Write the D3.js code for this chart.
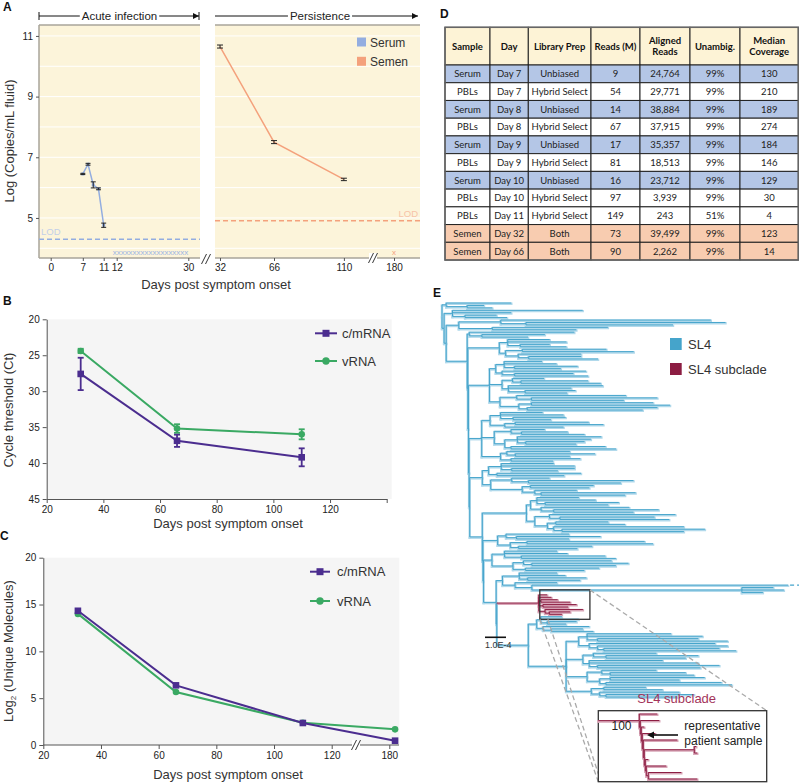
<!DOCTYPE html>
<html><head><meta charset="utf-8">
<script src="https://cdn.jsdelivr.net/npm/d3@7"></script>
<style>
body{margin:0;background:#fff}
svg{display:block}
text{font-family:"Liberation Sans",Arial,Helvetica,sans-serif}
</style></head>
<body><svg id="fig" width="799" height="783"></svg>
<script>
// ---------------- DATA ----------------
// Panel A
const serumDays = [7, 8, 9, 10, 11];
const serumLog = [6.45, 6.77, 6.09, 5.96, 4.76];
const serumErr = [0.02, 0.03, 0.10, 0.03, 0.07];
const serumUndetectedDays = [12,13,14,15,16,17,18,19,20,21,22,23,24,25,26,27,28,29,30];
const semenDays = [32, 66, 110];
const semenLog = [10.65, 7.50, 6.27];
const semenErr = [0.05, 0.05, 0.04];
const semenUndetectedDays = [180];
const serumLOD = 4.3;
const semenLOD = 4.91;
const undetectedLevel = 3.87;
const aTicksLeft = [0, 7, 11, 12, 30];
const aTicksRight = [32, 66, 110, 180];
const aYTicks = [5, 7, 9, 11];
const aGrid = [4, 5, 6, 7, 8, 9, 10, 11];
const aLegend = ["Serum", "Semen"];

// Panel B
const bDays = [32, 66, 110];
const ctCmRNA = [27.6, 36.9, 39.2];
const ctCmRNAErr = [2.25, 0.85, 1.25];
const ctVRNA = [24.4, 35.2, 36.0];
const ctVRNAErr = [0.3, 0.6, 0.7];
const bXTicks = [20, 40, 60, 80, 100, 120, 140];
const bYTicks = [20, 25, 30, 35, 40, 45];

// Panel C
const cDays = [32, 66, 110, 182];
const umCmRNA = [14.33, 6.37, 2.35, 0.46];
const umVRNA = [14.0, 5.66, 2.38, 1.67];
const cXTicks = [20, 40, 60, 80, 100, 120, 180];
const cYTicks = [0, 5, 10, 15, 20];
const seriesNames = ["c/mRNA", "vRNA"];

// Panel D table
const tableHeader = [["Sample"], ["Day"], ["Library Prep"], ["Reads (M)"], ["Aligned", "Reads"], ["Unambig."], ["Median", "Coverage"]];
const tableSample = ["Serum","PBLs","Serum","PBLs","Serum","PBLs","Serum","PBLs","PBLs","Semen","Semen"];
const tableDay = ["Day 7","Day 7","Day 8","Day 8","Day 9","Day 9","Day 10","Day 10","Day 11","Day 32","Day 66"];
const tablePrep = ["Unbiased","Hybrid Select","Unbiased","Hybrid Select","Unbiased","Hybrid Select","Unbiased","Hybrid Select","Hybrid Select","Both","Both"];
const tableReads = ["9","54","14","67","17","81","16","97","149","73","90"];
const tableAligned = ["24,764","29,771","38,884","37,915","35,357","18,513","23,712","3,939","243","39,499","2,262"];
const tableUnambig = ["99%","99%","99%","99%","99%","99%","99%","99%","51%","99%","99%"];
const tableCoverage = ["130","210","189","274","184","146","129","30","4","123","14"];

// Panel E tree (branch lengths in units of 1e-5 subst./site; scale bar = 1.0E-4)
const treeTop = ["(:31,(:8,:12):10):2", "(:62,:28,(:15,:20):6):4", "((:100,(:95,:70):12):20,(:55,:40):16):6"];
const treeMainClades = [
  "(:50,(:30,:22):6):1",
  "((:20,:28,(:14,:22):6):4,((:40,:53):8,(:30,(:25,:33):5):6):3):15",
  "(((:18,:25,(:30,:22):5):4,(:40,(:28,:35):6):3):3,((:15,(:32,:38):4):5,(:45,:30,(:24,:20):8):3):6,((:52,(:60,:44):7):8,((:58,:66):6,(:62,:55):4):9):5):10",
  "(((:20,:30,(:25,:18):6):5,((:35,:42):5,:28):7):4,((:16,(:22,:30):5):8,((:40,:35,(:28,:24):4):6,(:45,:50):3):5):6,((:30,(:38,:26):4):3,(:33,:20):5):9):6",
  "(((:25,:35,(:30,:22):5):6,(:40,:32):4):3,((:18,(:50,:44):8):10,((:30,:28):4,(:20,(:45,:40):3):6):15):4):6"
];
const treeSecondClades = [
  "(((:20,:28,(:35,:30):4):3,(:42,(:50,:38):6):5):2,((:60,(:45,:52):5):7,((:25,:33):4,(:62,(:68,:58):4):3):6):4):21",
  "((:30,(:40,:25):5):4,((:56,:60):8,(:35,:28):4):6):7",
  "((:25,:30,(:40,:45):8):6,((:42,(:46,:40):4):5,(:35,:28):6):10):4"
];
const treeThirdClades = [
  "((:18,:22,(:28,:25):4):8,(:20,(:122,(:15,:20,:10):100):8):6):3",
  "(:4,:6,(:8,:14):1,(:16,:12):2,(:18,(:10,:6):2):3)SUB:20",
  "(((:10,:18,(:14,:9):3):2,(:22,(:15,:20):4):3):4,(((:40,:55,(:48,:62):5):4,(:60,(:62,(:55,:63):3):4):5):6,((:30,(:44,:38):6):5,(:35,:52,(:58,:49):4):3):8,((:26,(:36,:40):4):7,((:45,:33):5,(:55,:60):3):6):10,((:20,:28):6,(:38,(:42,:34):3):4):12):18):15"
];
const spineLengths = [10, 6, 6];
const backboneStep = 0.3;
const rootStep = 1;
const insetTree = "((:18,(:19,(:3,(:13,(:34,((:2,:3):50,(:3,(:20,(:33,:49):2):1):1):1):1):1):1):1):41);";
const treeLegend = ["SL4", "SL4 subclade"];
const scaleBarUnits = 10;
const scaleBarLabel = "1.0E-4";

// ---------------- DRAWING ----------------
const svg = d3.select("#fig");
const AX = "#555", TXT = "#222";

function styleAxis(g, fs, keepDomain) {
  if (!keepDomain) g.select(".domain").remove();
  else g.select(".domain").attr("stroke", AX).attr("stroke-width", 1);
  g.selectAll(".tick line").attr("stroke", AX);
  g.selectAll(".tick text").attr("fill", TXT).style("font-size", fs + "px")
    .style("font-family", '"Liberation Sans",Arial,sans-serif');
}
function breakMark(x, y, color) {
  const g = svg.append("g");
  g.append("rect").attr("x", x - 4).attr("y", y - 5).attr("width", 8).attr("height", 10).attr("fill", "#fff");
  [-2, 2].forEach(dx => g.append("line").attr("x1", x + dx - 2.5).attr("y1", y + 5).attr("x2", x + dx + 2.5).attr("y2", y - 5)
    .attr("stroke", color || "#333").attr("stroke-width", 1));
}
function errBars(g, xs, ys, xv, yv, ev, color, cap, sw) {
  xv.forEach((x, i) => {
    const cx = xs(x), y1 = ys(yv[i] - ev[i]), y2 = ys(yv[i] + ev[i]);
    g.append("line").attr("x1", cx).attr("x2", cx).attr("y1", y1).attr("y2", y2).attr("stroke", color).attr("stroke-width", sw);
    [y1, y2].forEach(yy => g.append("line").attr("x1", cx - cap / 2).attr("x2", cx + cap / 2).attr("y1", yy).attr("y2", yy)
      .attr("stroke", color).attr("stroke-width", sw));
  });
}
function panelLetter(t, x, y) {
  svg.append("text").attr("x", x).attr("y", y).text(t).style("font-weight", "bold").style("font-size", "12px").attr("fill", "#111");
}

// ===== Panel A =====
panelLetter("A", 3, 11);
const aY = d3.scaleLinear().domain([3.68, 11.36]).range([258, 25]);
const aXL = d3.scaleLinear().domain([0, 7, 11, 12, 30]).range([50.7, 82.8, 103.7, 116.7, 188.3]);
const aXR = d3.scaleLinear().domain([32, 110, 180]).range([220, 343.9, 394]);
const cream = "#fcf4da";
const aPanels = [[39, 200], [215, 420]];
aPanels.forEach(([x0, x1]) => {
  svg.append("rect").attr("x", x0).attr("y", 25).attr("width", x1 - x0).attr("height", 233).attr("fill", cream);
  svg.append("g").selectAll("line").data(aGrid).join("line")
    .attr("x1", x0).attr("x2", x1).attr("y1", d => aY(d)).attr("y2", d => aY(d)).attr("stroke", "#fff").attr("stroke-width", 1);
  [25, 258].forEach(yy => svg.append("line").attr("x1", x0).attr("x2", x1).attr("y1", yy).attr("y2", yy)
    .attr("stroke", "#a9a49a").attr("stroke-width", 1.5));
});
svg.append("line").attr("x1", 39).attr("x2", 39).attr("y1", 25).attr("y2", 258).attr("stroke", "#a9a49a").attr("stroke-width", 1.5);
const aYAxis = svg.append("g").attr("transform", "translate(39,0)").call(d3.axisLeft(aY).tickValues(aYTicks).tickSize(3).tickSizeOuter(0));
styleAxis(aYAxis, 10);
const aXAxisL = svg.append("g").attr("transform", "translate(0,258)").call(d3.axisBottom(aXL).tickValues(aTicksLeft).tickSize(3).tickSizeOuter(0));
styleAxis(aXAxisL, 10);
const aXAxisR = svg.append("g").attr("transform", "translate(0,258)").call(d3.axisBottom(aXR).tickValues(aTicksRight).tickSize(3).tickSizeOuter(0));
styleAxis(aXAxisR, 10);
breakMark(206, 259);
breakMark(373, 258);

// LOD lines
const serumC = "#93ade0", semenC = "#f4a17c";
svg.append("line").attr("x1", 39).attr("x2", 200).attr("y1", aY(serumLOD)).attr("y2", aY(serumLOD))
  .attr("stroke", serumC).attr("stroke-width", 1.5).attr("stroke-dasharray", "5,3");
svg.append("text").attr("x", 41).attr("y", aY(serumLOD) - 4).text("LOD").attr("fill", "#c3cfe8").style("font-size", "9.5px");
svg.append("line").attr("x1", 215).attr("x2", 420).attr("y1", aY(semenLOD)).attr("y2", aY(semenLOD))
  .attr("stroke", semenC).attr("stroke-width", 1.5).attr("stroke-dasharray", "5,3");
svg.append("text").attr("x", 418).attr("y", aY(semenLOD) - 4).attr("text-anchor", "end").text("LOD").attr("fill", "#f7c3a8").style("font-size", "9.5px");

// series
const aG = svg.append("g");
aG.append("path").datum(serumDays.map((d, i) => [aXL(d), aY(serumLog[i])]))
  .attr("d", d3.line()).attr("fill", "none").attr("stroke", serumC).attr("stroke-width", 1.5);
aG.selectAll(".sm").data(serumDays).join("rect").attr("x", (d) => aXL(d) - 1.5).attr("y", (d, i) => aY(serumLog[i]) - 1.5)
  .attr("width", 3).attr("height", 3).attr("fill", serumC);
errBars(aG, aXL, aY, serumDays, serumLog, serumErr, "#222", 5, 1);
aG.append("path").datum(semenDays.map((d, i) => [aXR(d), aY(semenLog[i])]))
  .attr("d", d3.line()).attr("fill", "none").attr("stroke", semenC).attr("stroke-width", 1.5);
errBars(aG, aXR, aY, semenDays, semenLog, semenErr, "#222", 6, 1);
aG.selectAll(".sx").data(serumUndetectedDays).join("text").attr("x", d => aXL(d) - 2).attr("y", aY(undetectedLevel) + 3)
  .attr("text-anchor", "middle").text("x").attr("fill", "#9db4e3").style("font-size", "8px");
aG.selectAll(".mx").data(semenUndetectedDays).join("text").attr("x", d => aXR(d)).attr("y", aY(undetectedLevel) + 3)
  .attr("text-anchor", "middle").text("x").attr("fill", semenC).style("font-size", "8px");

// brackets
function arrowHead(x, y) {
  svg.append("path").attr("d", `M${x},${y} L${x - 6},${y - 3} L${x - 6},${y + 3} Z`).attr("fill", "#111");
}
function bracket(label, x0, x1, cx, startTick, endTick) {
  const t = svg.append("text").attr("x", cx).attr("y", 20).attr("text-anchor", "middle").text(label)
    .attr("fill", "#222").style("font-size", "11.5px");
  const w = t.node().getComputedTextLength();
  svg.append("line").attr("x1", x0).attr("x2", cx - w / 2 - 2).attr("y1", 16).attr("y2", 16).attr("stroke", "#111");
  svg.append("line").attr("x1", cx + w / 2 + 2).attr("x2", x1).attr("y1", 16).attr("y2", 16).attr("stroke", "#111");
  if (startTick) svg.append("line").attr("x1", x0).attr("x2", x0).attr("y1", 12).attr("y2", 20).attr("stroke", "#111");
  if (endTick) svg.append("line").attr("x1", x1).attr("x2", x1).attr("y1", 12).attr("y2", 20).attr("stroke", "#111");
  arrowHead(x1, 16);
}
bracket("Acute infection", 39, 199, 119.5, true, true);
bracket("Persistence", 215, 418, 320, false, false);

// legend A
[serumC, semenC].forEach((c, i) => {
  svg.append("rect").attr("x", 357).attr("y", 37.5 + i * 19.3).attr("width", 9).attr("height", 9).attr("fill", c);
  svg.append("text").attr("x", 370).attr("y", 46.5 + i * 19.3).text(aLegend[i]).attr("fill", "#333").style("font-size", "12px");
});
svg.append("text").attr("transform", "translate(14,141) rotate(-90)").attr("text-anchor", "middle")
  .text("Log (Copies/mL fluid)").attr("fill", "#333").style("font-size", "13px");
svg.append("text").attr("x", 216).attr("y", 289).attr("text-anchor", "middle").text("Days post symptom onset")
  .attr("fill", "#333").style("font-size", "13px");

// ===== Panel B =====
panelLetter("B", 3, 305);
const purple = "#4b2d8f", green = "#3aa963";
const bX = d3.scaleLinear().domain([20, 140]).range([46.7, 386.7]);
const bY = d3.scaleLinear().domain([20, 45]).range([319.3, 499]);
svg.append("rect").attr("x", 46.7).attr("y", 319.3).attr("width", 345).attr("height", 499 - 319.3).attr("fill", "#f5f5f5");
const bYA = svg.append("g").attr("transform", "translate(46.7,0)").call(d3.axisLeft(bY).tickValues(bYTicks).tickSize(4).tickSizeOuter(0));
styleAxis(bYA, 10, true);
const bXA = svg.append("g").attr("transform", "translate(0,499)").call(d3.axisBottom(bX).tickValues(bXTicks).tickSize(4).tickSizeOuter(0)
  .tickFormat(d => d === 140 ? "" : d));
styleAxis(bXA, 10, true);
const bG = svg.append("g");
function series(g, xs, ys, days, vals, color, shape) {
  g.append("path").datum(days.map((d, i) => [xs(d), ys(vals[i])])).attr("d", d3.line())
    .attr("fill", "none").attr("stroke", color).attr("stroke-width", 2);
  days.forEach((d, i) => {
    if (shape === "sq") g.append("rect").attr("x", xs(d) - 3.3).attr("y", ys(vals[i]) - 3.3).attr("width", 6.6).attr("height", 6.6).attr("fill", color);
    else g.append("circle").attr("cx", xs(d)).attr("cy", ys(vals[i])).attr("r", 3.3).attr("fill", color);
  });
}
series(bG, bX, bY, bDays, ctVRNA, green, "ci");
errBars(bG, bX, bY, bDays, ctVRNA, ctVRNAErr, green, 6, 1.8);
series(bG, bX, bY, bDays, ctCmRNA, purple, "sq");
errBars(bG, bX, bY, bDays, ctCmRNA, ctCmRNAErr, purple, 6, 1.8);
function legend2(x0, x1, ys, tx) {
  [[purple, "sq"], [green, "ci"]].forEach(([c, s], i) => {
    svg.append("line").attr("x1", x0).attr("x2", x1).attr("y1", ys[i]).attr("y2", ys[i]).attr("stroke", c).attr("stroke-width", 2);
    const cx = (x0 + x1) / 2;
    if (s === "sq") svg.append("rect").attr("x", cx - 3.5).attr("y", ys[i] - 3.5).attr("width", 7).attr("height", 7).attr("fill", c);
    else svg.append("circle").attr("cx", cx).attr("cy", ys[i]).attr("r", 3.7).attr("fill", c);
    svg.append("text").attr("x", tx).attr("y", ys[i] + 4.5).text(seriesNames[i]).attr("fill", "#333").style("font-size", "13px");
  });
}
legend2(315, 337, [333.3, 361], 342);
svg.append("text").attr("transform", "translate(13,410) rotate(-90)").attr("text-anchor", "middle")
  .text("Cycle threshold (Ct)").attr("fill", "#333").style("font-size", "13px");
svg.append("text").attr("x", 228).attr("y", 528).attr("text-anchor", "middle").text("Days post symptom onset")
  .attr("fill", "#333").style("font-size", "13px");

// ===== Panel C =====
panelLetter("C", 0, 540);
const cX = d3.scaleLinear().domain([20, 120, 175, 190]).range([43.3, 331.7, 374.9, 418.1]);
const cY = d3.scaleLinear().domain([0, 20]).range([745, 557.7]);
svg.append("rect").attr("x", 43.3).attr("y", 557.7).attr("width", 356).attr("height", 745 - 557.7).attr("fill", "#f5f5f5");
const cYA = svg.append("g").attr("transform", "translate(43.3,0)").call(d3.axisLeft(cY).tickValues(cYTicks).tickSize(4).tickSizeOuter(0));
styleAxis(cYA, 10, true);
const cXA = svg.append("g").attr("transform", "translate(0,745)").call(d3.axisBottom(cX).tickValues(cXTicks).tickSize(4).tickSizeOuter(0));
styleAxis(cXA, 10, true);
cXA.select(".domain").attr("d", `M43.3,0H399`);
breakMark(356, 745, "#333");
const cG = svg.append("g");
series(cG, cX, cY, cDays, umVRNA, green, "ci");
series(cG, cX, cY, cDays, umCmRNA, purple, "sq");
legend2(310, 330, [571.7, 601], 337);
const cyl = svg.append("text").attr("transform", "translate(13,651) rotate(-90)").attr("text-anchor", "middle")
  .attr("fill", "#333").style("font-size", "13px");
cyl.append("tspan").text("Log");
cyl.append("tspan").text("2").attr("dy", 3).style("font-size", "8px");
cyl.append("tspan").text(" (Unique Molecules)").attr("dy", -3);
svg.append("text").attr("x", 228).attr("y", 779).attr("text-anchor", "middle").text("Days post symptom onset")
  .attr("fill", "#333").style("font-size", "13px");

// ===== Panel D table =====
panelLetter("D", 440, 18);
const tblCols = [445, 490, 528.3, 591, 640, 690, 740, 798.3];
const tblTop = 27.3, hdrH = 37.7, rowH = 17.73;
const fillFor = { Serum: "#b4c6e6", PBLs: "#ffffff", Semen: "#f8ccb0" };
const tG = svg.append("g");
for (let c = 0; c < 7; c++) {
  tG.append("rect").attr("x", tblCols[c]).attr("y", tblTop).attr("width", tblCols[c + 1] - tblCols[c]).attr("height", hdrH)
    .attr("fill", "#fdf3d6").attr("stroke", "#222").attr("stroke-width", 1);
  const lines = tableHeader[c];
  lines.forEach((ln, k) => {
    tG.append("text").attr("x", (tblCols[c] + tblCols[c + 1]) / 2)
      .attr("y", tblTop + hdrH / 2 + 3.5 + (k - (lines.length - 1) / 2) * 11.5)
      .attr("text-anchor", "middle").text(ln).style("font-weight", "bold").style("font-size", "9.5px")
      .style("font-family", "Lato, 'Open Sans', sans-serif").attr("fill", "#111");
  });
}
const tableCols = [tableSample, tableDay, tablePrep, tableReads, tableAligned, tableUnambig, tableCoverage];
tableSample.forEach((s, r) => {
  const y0 = tblTop + hdrH + r * rowH;
  for (let c = 0; c < 7; c++) {
    tG.append("rect").attr("x", tblCols[c]).attr("y", y0).attr("width", tblCols[c + 1] - tblCols[c]).attr("height", rowH)
      .attr("fill", fillFor[s]).attr("stroke", "#222").attr("stroke-width", 1);
    tG.append("text").attr("x", (tblCols[c] + tblCols[c + 1]) / 2).attr("y", y0 + rowH / 2 + 3.4)
      .attr("text-anchor", "middle").text(tableCols[c][r]).style("font-size", "9.5px")
      .style("font-family", "Lato, 'Open Sans', sans-serif").attr("fill", "#222");
  }
});
tG.append("rect").attr("x", tblCols[0]).attr("y", tblTop).attr("width", tblCols[7] - tblCols[0])
  .attr("height", hdrH + rowH * tableSample.length).attr("fill", "none").attr("stroke", "#666").attr("stroke-width", 1.5);

// ===== Panel E tree =====
panelLetter("E", 433, 297);
function parseNewick(s) {
  let i = 0;
  function node() {
    const n = { children: [] };
    if (s[i] === "(") {
      i++;
      n.children.push(node());
      while (s[i] === ",") { i++; n.children.push(node()); }
      i++;
    }
    let name = "";
    while (i < s.length && !":,();".includes(s[i])) name += s[i++];
    n.name = name;
    n.length = 0;
    if (s[i] === ":") {
      i++; let num = "";
      while (i < s.length && !",();".includes(s[i])) num += s[i++];
      n.length = +num;
    }
    if (!n.children.length) delete n.children;
    return n;
  }
  return node();
}
// ladderized (caterpillar) backbone: (a,(b,(c,last):step):step)
function ladder(items, step) {
  let s = items[items.length - 1];
  for (let k = items.length - 2; k >= 0; k--) s = "(" + items[k] + "," + s + ")" + (k > 0 ? ":" + step : "");
  return s;
}
function layoutTree(str, xs, y0, y1) {
  const root = d3.hierarchy(parseNewick(str));
  root.eachBefore(d => {
    d.dist = d.parent ? d.parent.dist + (d.data.length || 0) : 0;
    d.sub = d.data.name === "SUB" || (d.parent ? d.parent.sub : false);
  });
  const leaves = root.leaves();
  const ys = d3.scaleLinear().domain([0, leaves.length - 1]).range([y0, y1]);
  leaves.forEach((l, k) => l.py = ys(k));
  root.eachAfter(d => { if (d.children) d.py = (d.children[0].py + d.children[d.children.length - 1].py) / 2; });
  root.each(d => d.px = xs(d.dist));
  return root;
}
function drawTree(root, g, blueCore, blueHalo, redCore, redHalo, forceRed) {
  const segs = [];
  root.descendants().forEach(d => {
    if (!d.parent) return;
    const p = d.parent;
    segs.push({ x1: p.px, y1: p.py, x2: p.px, y2: d.py, red: forceRed || p.sub });
    segs.push({ x1: p.px, y1: d.py, x2: d.px, y2: d.py, red: forceRed || d.sub });
  });
  g.append("g").selectAll("line").data(segs).join("line")
    .attr("x1", s => s.x1).attr("y1", s => s.y1 + 0.8).attr("x2", s => s.x2).attr("y2", s => s.y2 + 0.8)
    .attr("stroke", s => s.red ? redHalo : blueHalo).attr("stroke-width", 2.4).attr("stroke-linecap", "square");
  g.append("g").selectAll("line").data(segs).join("line")
    .attr("x1", s => s.x1).attr("y1", s => s.y1).attr("x2", s => s.x2).attr("y2", s => s.y2)
    .attr("stroke", s => s.red ? redCore : blueCore).attr("stroke-width", 1);
}
const n3 = ladder(treeThirdClades, backboneStep) + ":" + spineLengths[2];
const n2 = ladder(treeSecondClades.concat([n3]), backboneStep) + ":" + spineLengths[1];
const n1 = ladder(treeMainClades.concat([n2]), backboneStep) + ":" + spineLengths[0];
const mainNewick = ladder(treeTop.concat([n1]), rootStep) + ";";
const tX = d3.scaleLinear().domain([0, 10]).range([442, 463]);
const tRoot = layoutTree(mainNewick, tX, 303, 697);
const teal = "#45a4cb", tealHalo = "#b1d9eb", maroon = "#8c1d42", maroonHalo = "#d9a7b8";
const eG = svg.append("g");
drawTree(tRoot, eG, teal, tealHalo, maroon, maroonHalo, false);
// dashed continuation of the long branch
const longest = d3.max(tRoot.leaves(), d => d.px);
const longLeaf = tRoot.leaves().find(d => d.px === longest);
svg.append("line").attr("x1", longest + 2).attr("x2", longest + 14).attr("y1", longLeaf.py).attr("y2", longLeaf.py)
  .attr("stroke", teal).attr("stroke-width", 1.2).attr("stroke-dasharray", "4,3");

// subclade box
const subNode = tRoot.descendants().find(d => d.data.name === "SUB");
const subLeaves = subNode.leaves();
const bx0 = subNode.px + 1, bx1 = d3.max(subLeaves, d => d.px) + 7;
const by0 = subLeaves[0].py - 5, by1 = subLeaves[subLeaves.length - 1].py + 5;
svg.append("rect").attr("x", bx0).attr("y", by0).attr("width", bx1 - bx0).attr("height", by1 - by0)
  .attr("fill", "none").attr("stroke", "#333").attr("stroke-width", 1.3);
// inset box
const ibx0 = 598.3, ibx1 = 766.7, iby0 = 710.7, iby1 = 781.7;
svg.append("line").attr("x1", bx1).attr("y1", by0).attr("x2", ibx1).attr("y2", iby0)
  .attr("stroke", "#aaa").attr("stroke-width", 1.3).attr("stroke-dasharray", "5,3");
svg.append("line").attr("x1", bx0).attr("y1", by1).attr("x2", ibx0).attr("y2", iby1)
  .attr("stroke", "#aaa").attr("stroke-width", 1.3).attr("stroke-dasharray", "5,3");
svg.append("line").attr("x1", bx0 + 8).attr("y1", by1).attr("x2", ibx0).attr("y2", iby1 - 8)
  .attr("stroke", "#aaa").attr("stroke-width", 1.3).attr("stroke-dasharray", "5,3");
svg.append("rect").attr("x", ibx0).attr("y", iby0).attr("width", ibx1 - ibx0).attr("height", iby1 - iby0)
  .attr("fill", "#fff").attr("stroke", "#333").attr("stroke-width", 1.3);
const iX = d3.scaleLinear().domain([0, 100]).range([ibx0, ibx0 + 100]);
const iRoot = layoutTree(insetTree, iX, 714, 779);
drawTree(iRoot, svg.append("g"), maroon, maroonHalo, maroon, maroonHalo, true);
svg.append("text").attr("x", 676.7).attr("y", 703.3).attr("text-anchor", "middle").text("SL4 subclade")
  .attr("fill", "#a3345a").style("font-size", "13px");
svg.append("text").attr("x", 611.5).attr("y", 730).text("100").attr("fill", "#222").style("font-size", "12px");
svg.append("line").attr("x1", 678).attr("x2", 652).attr("y1", 735).attr("y2", 735).attr("stroke", "#111").attr("stroke-width", 1.6);
svg.append("path").attr("d", "M647,735 L654,731.5 L654,738.5 Z").attr("fill", "#111");
svg.append("text").attr("x", 684.3).attr("y", 730).text("representative").attr("fill", "#222").style("font-size", "12px");
svg.append("text").attr("x", 684.3).attr("y", 745).text("patient sample").attr("fill", "#222").style("font-size", "12px");

// scale bar
svg.append("line").attr("x1", 485).attr("x2", 485 + tX(scaleBarUnits) - tX(0)).attr("y1", 637.3).attr("y2", 637.3)
  .attr("stroke", "#111").attr("stroke-width", 1.6);
svg.append("text").attr("x", 485).attr("y", 648).text(scaleBarLabel).attr("fill", "#333").style("font-size", "9px");

// legend E
[teal, maroon].forEach((c, i) => {
  svg.append("rect").attr("x", 670).attr("y", 338 + i * 25).attr("width", 11.7).attr("height", 12).attr("fill", c);
  svg.append("text").attr("x", 688).attr("y", 349 + i * 25).text(treeLegend[i]).attr("fill", "#333").style("font-size", "13px");
});
</script></body></html>
